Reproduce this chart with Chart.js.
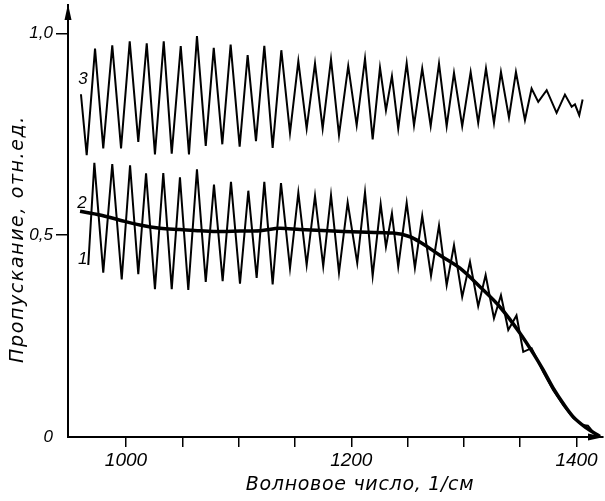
<!DOCTYPE html>
<html>
<head>
<meta charset="utf-8">
<script src="https://cdn.jsdelivr.net/npm/chart.js@4/dist/chart.umd.min.js"></script>
<style>
html,body{margin:0;padding:0;background:#fff;}
canvas{display:block;}
</style>
</head>
<body>
<canvas id="c" width="605" height="501"></canvas>
<script>
// ---- Data ----
const xTicks = [1000, 1050, 1100, 1150, 1200, 1250, 1300, 1350, 1400];
const xTickLabels = {1000: '1000', 1200: '1200', 1400: '1400'};
const yTicks = [0, 0.5, 1.0];
const yTickLabels = {0: '0', 0.5: '0,5', 1: '1,0'};
const xTitle = 'Волновое число, 1/см';
const yTitle = 'Пропускание, отн.ед.';
const curveNames = ['1', '2', '3'];

// Curve 3 (upper oscillating)
const curve3X = [960.0, 965.1, 972.5, 979.8, 987.8, 995.6, 1003.3, 1010.9, 1018.4, 1025.7,
  1033.5, 1040.6, 1048.6, 1055.9, 1063.0, 1070.8, 1077.9, 1085.5, 1092.9, 1100.9,
  1108.0, 1115.4, 1122.8, 1130.2, 1137.9, 1145.6, 1153.0, 1160.4, 1167.8, 1174.6,
  1182.0, 1189.1, 1197.3, 1204.8, 1212.2, 1219.0, 1225.5, 1230.8, 1236.1, 1241.7,
  1249.2, 1255.7, 1263.0, 1270.5, 1277.9, 1284.7, 1291.2, 1298.5, 1306.0, 1312.7,
  1319.6, 1326.7, 1332.9, 1340.0, 1346.2, 1354.2, 1360.1, 1366.0, 1373.5, 1382.3,
  1389.7, 1395.7, 1398.6, 1402.4, 1405.4];
const curve3Y = [0.849, 0.698, 0.962, 0.715, 0.970, 0.715, 0.980, 0.731, 0.975, 0.700,
  0.980, 0.702, 0.968, 0.700, 0.993, 0.721, 0.964, 0.725, 0.972, 0.719,
  0.946, 0.733, 0.969, 0.716, 0.958, 0.753, 0.931, 0.764, 0.925, 0.764,
  0.935, 0.748, 0.919, 0.772, 0.937, 0.737, 0.915, 0.809, 0.894, 0.764,
  0.926, 0.772, 0.913, 0.770, 0.925, 0.770, 0.902, 0.770, 0.904, 0.778,
  0.913, 0.778, 0.904, 0.791, 0.904, 0.785, 0.863, 0.830, 0.859, 0.803,
  0.848, 0.818, 0.824, 0.797, 0.836];

// Curve 1 (lower oscillating)
const curve1X = [966.5, 971.9, 979.8, 987.8, 996.2, 1003.6, 1010.9, 1017.8, 1025.7, 1033.1,
  1040.6, 1047.9, 1055.3, 1063.0, 1070.8, 1078.1, 1085.8, 1093.2, 1101.2, 1108.6,
  1116.0, 1122.8, 1130.2, 1137.6, 1145.6, 1153.0, 1160.4, 1167.8, 1175.1, 1182.0,
  1189.1, 1196.8, 1205.3, 1212.2, 1219.0, 1226.1, 1230.8, 1236.1, 1241.7, 1249.2,
  1256.5, 1263.0, 1270.8, 1277.9, 1284.7, 1291.2, 1298.5, 1305.4, 1312.7, 1319.3,
  1326.7, 1332.9, 1339.4, 1346.7, 1352.7, 1360.1, 1370.4, 1379.3, 1388.2, 1397.1,
  1404.8, 1410.1, 1416.3, 1420.8];
const curve1Y = [0.426, 0.679, 0.407, 0.676, 0.390, 0.673, 0.403, 0.653, 0.366, 0.654,
  0.366, 0.643, 0.364, 0.663, 0.384, 0.625, 0.386, 0.632, 0.380, 0.610,
  0.394, 0.632, 0.378, 0.629, 0.418, 0.605, 0.426, 0.597, 0.423, 0.599,
  0.407, 0.581, 0.431, 0.606, 0.399, 0.577, 0.471, 0.554, 0.422, 0.580,
  0.419, 0.548, 0.399, 0.524, 0.376, 0.475, 0.347, 0.434, 0.324, 0.401,
  0.294, 0.351, 0.265, 0.301, 0.211, 0.220, 0.161, 0.116, 0.079, 0.047,
  0.030, 0.028, 0.007, 0.000];

// Curve 2 (smooth, thick)
const curve2X = [959.2, 976.9, 994.7, 1012.4, 1030.2, 1047.9, 1065.7, 1083.4, 1101.2, 1119.0,
  1136.7, 1154.5, 1183.8, 1213.9, 1237.0, 1252.1, 1261.0, 1278.7, 1296.5, 1314.2,
  1332.0, 1349.8, 1361.6, 1370.4, 1379.3, 1388.2, 1397.1, 1409.0, 1420.8];
const curve2Y = [0.559, 0.550, 0.537, 0.525, 0.517, 0.514, 0.511, 0.509, 0.510, 0.511,
  0.517, 0.514, 0.510, 0.507, 0.505, 0.496, 0.483, 0.450, 0.418, 0.372,
  0.322, 0.257, 0.207, 0.166, 0.121, 0.083, 0.050, 0.022, 0.001];

// curve label anchors (data coordinates)
const labelX = [961.5, 960.9, 961.8];
const labelY = [0.441, 0.579, 0.886];

const pts = (xs, ys) => xs.map((x, i) => ({x: x, y: ys[i]}));

const decor = {
  id: 'decor',
  afterDraw(chart) {
    const {ctx, chartArea: a, scales: {x, y}} = chart;
    ctx.save();
    ctx.fillStyle = '#000';
    // arrow heads
    ctx.beginPath();
    ctx.moveTo(a.left, a.top - 1);
    ctx.lineTo(a.left - 3.5, a.top + 15);
    ctx.lineTo(a.left + 3.5, a.top + 15);
    ctx.closePath(); ctx.fill();
    ctx.beginPath();
    ctx.moveTo(a.right + 1, a.bottom);
    ctx.lineTo(a.right - 15, a.bottom - 3.5);
    ctx.lineTo(a.right - 15, a.bottom + 3.5);
    ctx.closePath(); ctx.fill();
    // curve labels
    ctx.font = 'italic 17px "Liberation Sans"';
    ctx.textAlign = 'center';
    ctx.textBaseline = 'middle';
    curveNames.forEach((t, i) => {
      ctx.fillText(t, x.getPixelForValue(labelX[i]), y.getPixelForValue(labelY[i]));
    });
    // axis titles
    ctx.font = 'italic 19px "DejaVu Sans"';
    if ('letterSpacing' in ctx) ctx.letterSpacing = '0.7px';
    ctx.fillText(xTitle, 360, 485);
    if ('letterSpacing' in ctx) ctx.letterSpacing = '1.6px';
    ctx.translate(18, 239);
    ctx.rotate(-Math.PI / 2);
    ctx.fillText(yTitle, 0, 0);
    ctx.restore();
  }
};

new Chart(document.getElementById('c'), {
  type: 'scatter',
  data: {
    datasets: [
      {label: curveNames[0], data: pts(curve1X, curve1Y), showLine: true, borderColor: '#000',
       borderWidth: 2, pointRadius: 0, tension: 0},
      {label: curveNames[1], data: pts(curve2X, curve2Y), showLine: true, borderColor: '#000',
       borderWidth: 3.5, pointRadius: 0, cubicInterpolationMode: 'monotone'},
      {label: curveNames[2], data: pts(curve3X, curve3Y), showLine: true, borderColor: '#000',
       borderWidth: 2, pointRadius: 0, tension: 0}
    ]
  },
  options: {
    responsive: false,
    animation: false,
    devicePixelRatio: 1,
    layout: {padding: {top: 5, right: 2, left: 0, bottom: 0}},
    plugins: {legend: {display: false}, tooltip: {enabled: false}},
    scales: {
      x: {
        type: 'linear', min: 948.5, max: 1423.5,
        afterBuildTicks: ax => { ax.ticks = xTicks.map(v => ({value: v})); },
        afterFit: ax => { ax.height = 64; ax.paddingLeft = 0; ax.paddingRight = 0; },
        grid: {display: true, drawOnChartArea: false, drawTicks: true, tickLength: 10,
               color: '#000', lineWidth: 1.5},
        border: {display: true, color: '#000', width: 2},
        ticks: {
          callback: v => xTickLabels[v] || '',
          font: {family: '"Liberation Sans"', style: 'italic', size: 19},
          color: '#000', padding: 2, maxRotation: 0, autoSkip: false
        }
      },
      y: {
        type: 'linear', min: 0, max: 1.07,
        afterBuildTicks: ax => { ax.ticks = yTicks.map(v => ({value: v})); },
        afterFit: ax => { ax.width = 68; ax.paddingTop = 0; ax.paddingBottom = 0; },
        grid: {display: true, drawOnChartArea: false, drawTicks: true, tickLength: 12,
               color: c => (c.tick && c.tick.value === 0) ? 'rgba(0,0,0,0)' : '#000',
               lineWidth: 1.5},
        border: {display: true, color: '#000', width: 2},
        ticks: {
          callback: v => yTickLabels[v] || '',
          font: {family: '"Liberation Sans"', style: 'italic', size: 17},
          color: '#000', padding: 3, autoSkip: false
        }
      }
    }
  },
  plugins: [decor]
});
</script>
</body>
</html>
